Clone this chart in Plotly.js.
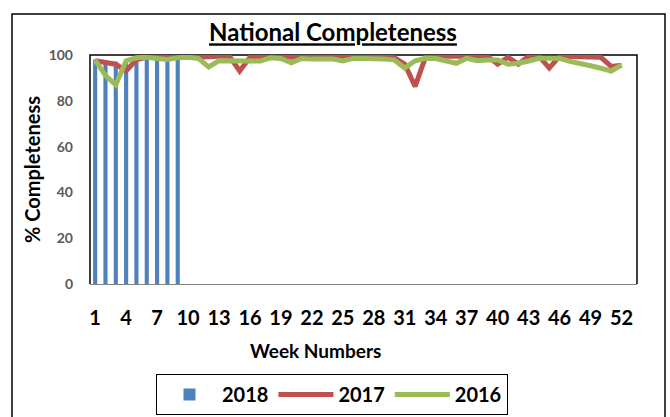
<!DOCTYPE html>
<html>
<head>
<meta charset="utf-8">
<script src="https://cdn.plot.ly/plotly-3.0.1.min.js"></script>
<style>
  html, body { margin: 0; padding: 0; background: #fff; }
  #chart { width: 670px; height: 417px; }
</style>
</head>
<body>
<div id="chart"></div>
<script>
// week numbers 1..52
var weeks = [];
for (var w = 1; w <= 52; w++) weeks.push(w);

var weeks2018 = [1, 2, 3, 4, 5, 6, 7, 8, 9];
var values2018 = [98, 97, 97, 98, 99, 99, 99, 99, 99];

var values2017 = [
  97.5, 97, 96, 93, 98, 99, 99.5, 99.5, 99.5, 100,
  99, 99.5, 99.5, 99.5, 93, 99, 99.5, 99.5, 99.5, 99,
  99.5, 99.5, 99.5, 99.5, 99, 99.5, 99.5, 99.5, 99, 98.8,
  96, 86.3, 99, 99.5, 99.5, 99.5, 99, 99.5, 99.5, 96,
  99, 96, 99.5, 99.5, 94.3, 99.5, 99.5, 99.5, 99, 99,
  95, 95.5
];

var values2016 = [
  97.8, 91, 87, 97.5, 98.8, 99, 98.5, 98, 98.8, 99,
  98.5, 94.8, 97.5, 97.4, 97.4, 97.4, 97.4, 98.8, 98.5, 96.6,
  98.5, 98.2, 98.5, 98.3, 97.4, 98.5, 98.5, 98.6, 98.3, 97.8,
  94.3, 97.5, 98.6, 98.5, 97.6, 96.4, 98.6, 97.5, 97.8, 97.8,
  96, 96.4, 97.4, 98.6, 98.6, 98.5, 97.2, 96, 95.3, 94.2,
  93, 95.6
];

var fontFam = 'Lato, "Open Sans", sans-serif';

var bars = {
  x: weeks2018,
  y: values2018,
  type: 'bar',
  name: '2018',
  width: 0.4,
  marker: {color: '#4F81BD'}
};
var line2017 = {
  x: weeks,
  y: values2017,
  type: 'scatter',
  mode: 'lines',
  name: '2017',
  line: {color: '#C0504D', width: 5}
};
var line2016 = {
  x: weeks,
  y: values2016,
  type: 'scatter',
  mode: 'lines',
  name: '2016',
  line: {color: '#9BBB59', width: 5}
};

var layout = {
  width: 670,
  height: 417,
  margin: {l: 90, r: 33, t: 55, b: 133},
  paper_bgcolor: '#fff',
  plot_bgcolor: '#fff',
  font: {family: fontFam, color: '#000'},
  showlegend: true,
  title: {
    text: '<b><u>National Completeness</u></b>',
    font: {size: 24, color: '#000'},
    x: 0.497, xanchor: 'center',
    y: 0.921, yanchor: 'middle'
  },
  xaxis: {
    range: [0.5, 53.5],
    tick0: 1, dtick: 3,
    showgrid: false,
    zeroline: false,
    showline: true,
    linecolor: '#868686',
    linewidth: 1,
    ticks: '',
    ticklabelstandoff: 16,
    tickfont: {size: 20, color: '#000', weight: 'bold'}
  },
  yaxis: {
    range: [0, 100],
    dtick: 20,
    showgrid: false,
    zeroline: false,
    showline: false,
    ticks: '',
    ticklabelstandoff: 16,
    tickfont: {size: 14, color: '#595959', weight: 'bold'},
    title: {
      text: '<b>% Completeness</b>',
      font: {size: 20, color: '#000'},
      standoff: 2
    }
  },
  legend: {
    orientation: 'h',
    xref: 'container', yref: 'container',
    x: 332 / 670, xanchor: 'center',
    y: 1 - 374 / 417, yanchor: 'top',
    bordercolor: '#000',
    borderwidth: 1,
    itemwidth: 55,
    font: {size: 20, color: '#000', weight: 'bold'}
  },
  annotations: [{
    text: '<b>Week Numbers</b>',
    xref: 'paper', yref: 'paper',
    x: (315 - 90) / 547, y: (284 - 350) / 229,
    xanchor: 'center', yanchor: 'middle',
    showarrow: false,
    font: {size: 19, color: '#000'}
  }],
  shapes: [
    // chart border
    {type: 'rect', xref: 'paper', yref: 'paper',
     x0: (12 - 90) / 547, x1: (665 - 90) / 547,
     y0: (284 - 440) / 229, y1: (284 - 14) / 229,
     line: {color: '#000', width: 1.5}, layer: 'below'},
    // plot area frame
    {type: 'path', xref: 'paper', yref: 'paper',
     path: 'M 0 0 L 0 1 L 1 1 L 1 0',
     line: {color: '#000', width: 1.5}, layer: 'below'}
  ]
};

Plotly.newPlot('chart', [bars, line2017, line2016], layout, {displayModeBar: false, staticPlot: true});
</script>
</body>
</html>
